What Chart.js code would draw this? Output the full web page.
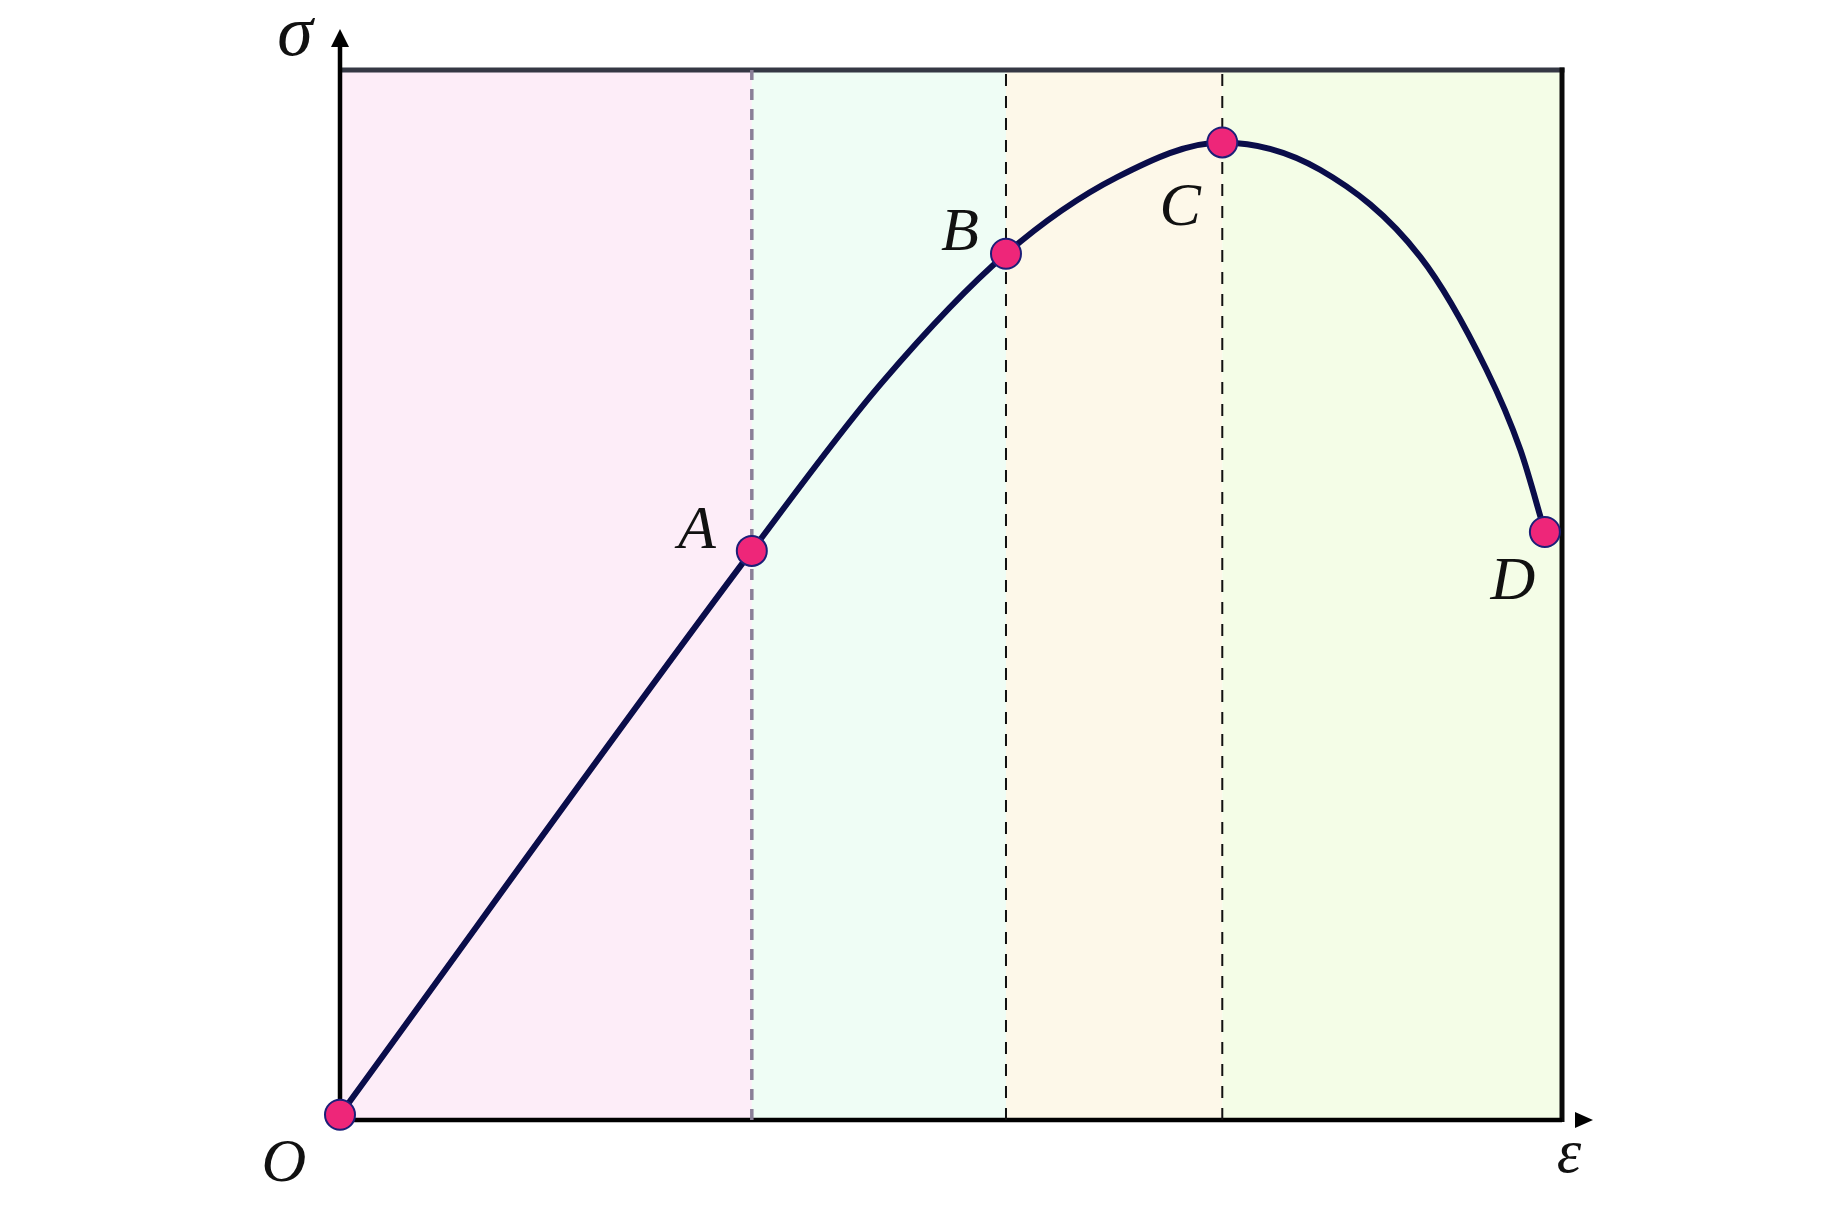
<!DOCTYPE html>
<html>
<head>
<meta charset="utf-8">
<script src="https://cdn.jsdelivr.net/npm/chart.js@4/dist/chart.umd.min.js"></script>
<style>
  html, body { margin: 0; padding: 0; background: #ffffff; }
  #wrap { width: 1843px; height: 1205px; }
</style>
</head>
<body>
<div id="wrap"><canvas id="c" width="1843" height="1205"></canvas></div>
<script>
// ---- data ----
const curveStrain = [0, 33.7, 44.4, 54.5, 63.6, 72.2, 80.2, 88.4, 93.8, 96.6, 98.6];
const curveStress = [0.5, 54.2, 70.3, 82.5, 89.8, 93.1, 90.5, 82.2, 71.5, 63.8, 56.0];
const keyLabels = ['O', 'A', 'B', 'C', 'D'];
const keyStrain = [0, 33.7, 54.5, 72.2, 98.6];
const keyStress = [0.5, 54.2, 82.5, 93.1, 56.0];
const axisTitles = ['σ', 'ε'];
const strainRange = [0, 100];
const stressRange = [0, 100];

// ---- styles ----
const bandColors = ['#fdedf8', '#effdf5', '#fdf8e9', '#f4fde7'];
const labelOffsets = [[-56, 47], [-55, -22], [-46, -23], [-42, 63], [-32, 48]];
const labelFont = 'italic 62px "Liberation Serif", "Times New Roman", serif';
const sigmaFont = 'italic 72px "Liberation Serif", "Times New Roman", serif';

const curvePts = curveStrain.map((x, i) => ({ x: x, y: curveStress[i] }));
const keyPts = keyStrain.map((x, i) => ({ x: x, y: keyStress[i] }));
const vline = (x) => [{ x: x, y: stressRange[0] }, { x: x, y: stressRange[1] }];

const decor = {
  id: 'decor',
  beforeDatasetsDraw(chart) {
    const { ctx, chartArea: a, scales: { x, y } } = chart;
    const bounds = [strainRange[0], keyStrain[1], keyStrain[2], keyStrain[3], strainRange[1]];
    ctx.save();
    for (let i = 0; i < 4; i++) {
      const x0 = x.getPixelForValue(bounds[i]);
      const x1 = x.getPixelForValue(bounds[i + 1]);
      ctx.fillStyle = bandColors[i];
      ctx.fillRect(x0, a.top, x1 - x0, a.bottom - a.top);
    }
    // top border
    ctx.strokeStyle = '#353844';
    ctx.lineWidth = 5;
    ctx.beginPath();
    ctx.moveTo(a.left, a.top);
    ctx.lineTo(a.right + 2.5, a.top);
    ctx.stroke();
    // right border
    ctx.strokeStyle = '#0a0a0a';
    ctx.beginPath();
    ctx.moveTo(a.right, a.top - 2.5);
    ctx.lineTo(a.right, a.bottom + 2);
    ctx.stroke();
    // y axis
    ctx.lineWidth = 4.5;
    ctx.strokeStyle = '#000000';
    ctx.beginPath();
    ctx.moveTo(a.left, a.bottom + 2);
    ctx.lineTo(a.left, 40);
    ctx.stroke();
    ctx.fillStyle = '#000000';
    ctx.beginPath();
    ctx.moveTo(a.left, 29);
    ctx.lineTo(a.left - 9, 47);
    ctx.lineTo(a.left + 9, 47);
    ctx.closePath();
    ctx.fill();
    // x axis
    ctx.beginPath();
    ctx.moveTo(a.left - 2, a.bottom);
    ctx.lineTo(a.right, a.bottom);
    ctx.stroke();
    ctx.beginPath();
    ctx.moveTo(a.right + 31, a.bottom);
    ctx.lineTo(a.right + 13, a.bottom - 8);
    ctx.lineTo(a.right + 13, a.bottom + 8);
    ctx.closePath();
    ctx.fill();
    ctx.restore();
  },
  afterDatasetsDraw(chart) {
    const { ctx, chartArea: a, scales: { x, y } } = chart;
    ctx.save();
    ctx.fillStyle = '#111111';
    ctx.font = labelFont;
    ctx.textAlign = 'center';
    ctx.textBaseline = 'middle';
    keyLabels.forEach((t, i) => {
      const px = x.getPixelForValue(keyStrain[i]) + labelOffsets[i][0];
      const py = y.getPixelForValue(keyStress[i]) + labelOffsets[i][1];
      ctx.fillText(t, px, py + 3);
    });
    ctx.fillText(axisTitles[1], a.right + 7, a.bottom + 36);
    ctx.font = sigmaFont;
    ctx.fillText(axisTitles[0], a.left - 45, 36);
    ctx.restore();
  }
};

function build() {
  new Chart(document.getElementById('c'), {
    type: 'scatter',
    data: {
      datasets: [
        { data: keyPts, showLine: false, pointRadius: 15, pointHoverRadius: 15,
          pointBackgroundColor: '#ee2679', pointBorderColor: '#1c1f78', pointBorderWidth: 2, clip: false, order: 0 },
        { data: curvePts, showLine: true, borderColor: '#0a0d4a', borderWidth: 6, pointRadius: 0,
          cubicInterpolationMode: 'monotone', clip: false, order: 1 },
        { data: vline(keyStrain[1]), showLine: true, borderColor: '#8a7f97', borderWidth: 3.5, borderDash: [11, 9], pointRadius: 0, order: 2 },
        { data: vline(keyStrain[2]), showLine: true, borderColor: '#111111', borderWidth: 2, borderDash: [12, 10], pointRadius: 0, order: 2 },
        { data: vline(keyStrain[3]), showLine: true, borderColor: '#111111', borderWidth: 2, borderDash: [12, 10], pointRadius: 0, order: 2 }
      ]
    },
    options: {
      responsive: false,
      animation: false,
      devicePixelRatio: 1,
      layout: { padding: { left: 340, right: 281, top: 70, bottom: 85 } },
      plugins: { legend: { display: false }, tooltip: { enabled: false } },
      scales: {
        x: { type: 'linear', min: strainRange[0], max: strainRange[1], display: false },
        y: { type: 'linear', min: stressRange[0], max: stressRange[1], display: false }
      }
    },
    plugins: [decor]
  });
}
if (document.fonts && document.fonts.load) {
  Promise.all([document.fonts.load(labelFont, 'OABCD'), document.fonts.load(sigmaFont, 'σε')])
    .then(build, build);
} else {
  build();
}
</script>
</body>
</html>
